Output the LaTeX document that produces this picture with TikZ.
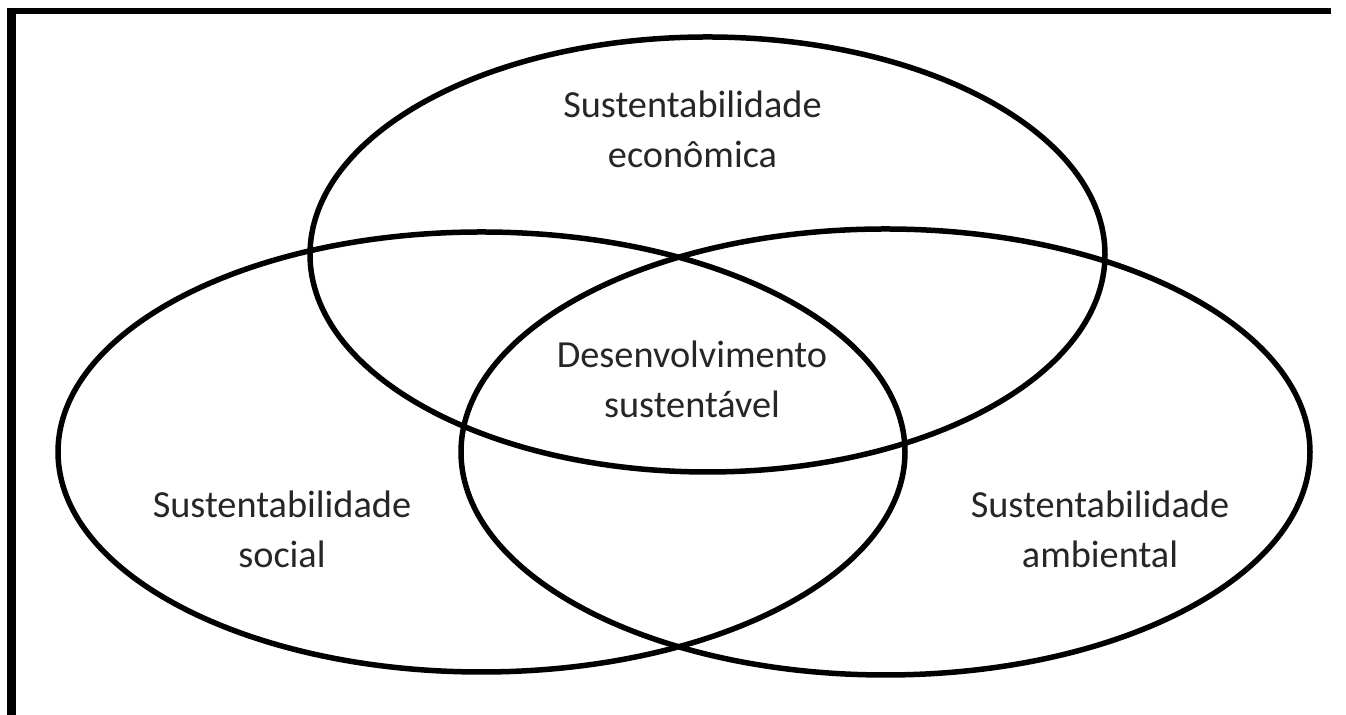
\documentclass[tikz,border=0pt]{standalone}
\usepackage{fontspec}
\setmainfont{Carlito}
\usetikzlibrary{positioning}

\begin{document}
\begin{tikzpicture}[
    ring/.style={line width=0.11cm},
    lbl/.style={align=center,anchor=base,inner sep=0pt,text=black!85,
      font=\fontsize{21.8pt}{28.45pt}\selectfont}]
  \useasboundingbox (0,0) rectangle (26.92,14.3);
  % frame: only the top and left edges
  \fill (0.14,14.02) rectangle (26.62,14.14);
  \fill (0.14,0) rectangle (0.32,14.14);
  % the three circles of sustainability
  \draw[ring] (14.15,9.21) ellipse (7.95 and 4.35);
  \draw[ring] (9.63,5.26) ellipse (8.47 and 4.40);
  \draw[ring] (17.71,5.26) ellipse (8.49 and 4.46);
  % base anchor sits on the last line
  \node[lbl] (econ) at (13.85,10.94) {Sustentabilidade\\econômica};
  \node[lbl] (social) at (5.64,2.94) {Sustentabilidade\\social};
  \node[lbl] (amb) at (22.0,2.94) {Sustentabilidade\\ambiental};
  \node[lbl] (desenv) at (13.84,5.94) {Desenvolvimento\\sustentável};
\end{tikzpicture}
\end{document}
